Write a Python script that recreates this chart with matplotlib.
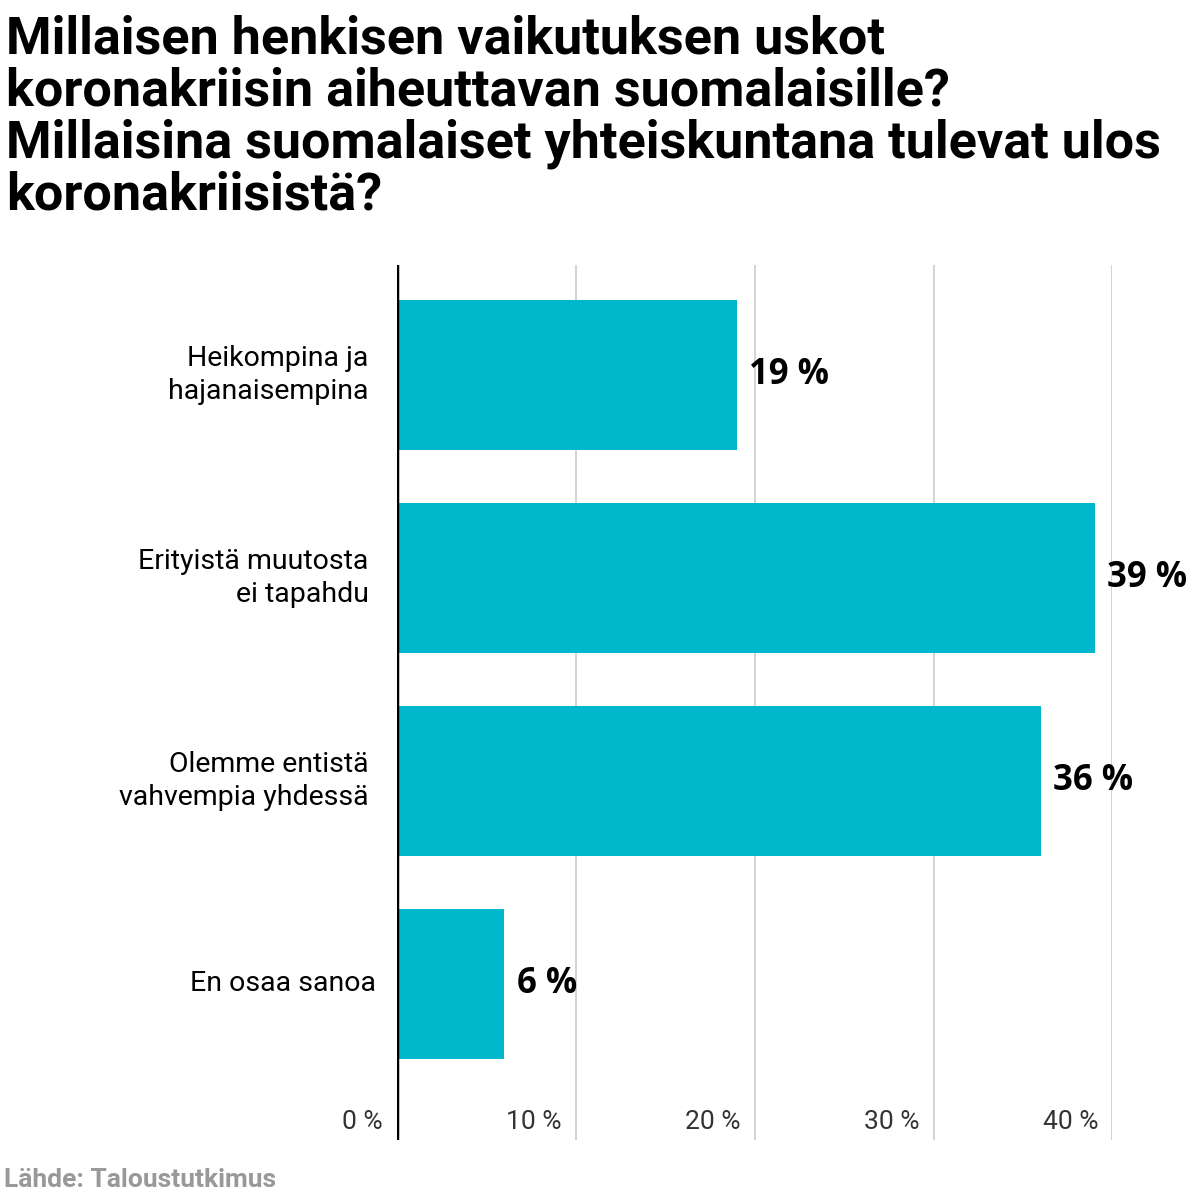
import matplotlib
matplotlib.use("Agg")
import matplotlib.pyplot as plt

categories = ["Heikompina ja\nhajanaisempina", "Erityistä muutosta\nei tapahdu",
              "Olemme entistä\nvahvempia yhdessä", "En osaa sanoa"]
values = [19, 39, 36, 6]
ticks = [0, 10, 20, 30, 40]
tick_labels = ["0 %", "10 %", "20 %", "30 %", "40 %"]

fig = plt.figure(figsize=(12, 12), dpi=100)
ax = fig.add_axes([0.331, 0.05, 0.596, 0.729])
ypos = list(range(len(categories)))
ax.barh(ypos, values, height=0.74, color="#00b8cc", zorder=2)
ax.set_xlim(0, 40)
ax.set_ylim(3.77, -0.54)
for t in ticks[1:]:
    ax.axvline(t, color="#cccccc", lw=1.2, zorder=1)
ax.axvline(0, color="black", lw=2.5, zorder=3)
for s in ax.spines.values():
    s.set_visible(False)
ax.set_xticks([]); ax.set_yticks([])
for y, v, c in zip(ypos, values, categories):
    ax.text(v + 0.7, y, f"{v} %", va="center", ha="left", fontsize=25,
            fontweight="bold", family="Open Sans")
    ax.text(-1.6 if y < 3 else -1.2, y, c, va="center", ha="right", fontsize=20.5,
            family="Roboto", linespacing=1.3)
for t, l in zip(ticks, tick_labels):
    ax.text(t - 0.8, 3.68, l, ha="right", va="center", fontsize=19,
            family="Roboto", color="#333333", zorder=4)
fig.text(0.005, 0.988, "Millaisen henkisen vaikutuksen uskot\nkoronakriisin aiheuttavan suomalaisille?\n"
         "Millaisina suomalaiset yhteiskuntana tulevat ulos\nkoronakriisistä?",
         ha="left", va="top", fontsize=37.5, fontweight="bold", family="Roboto",
         linespacing=1.05)
fig.text(0.003, 0.017, "Lähde: Taloustutkimus", ha="left", va="center",
         fontsize=19, color="#999999", family="Roboto", fontweight="bold")
fig.savefig("out.png")
